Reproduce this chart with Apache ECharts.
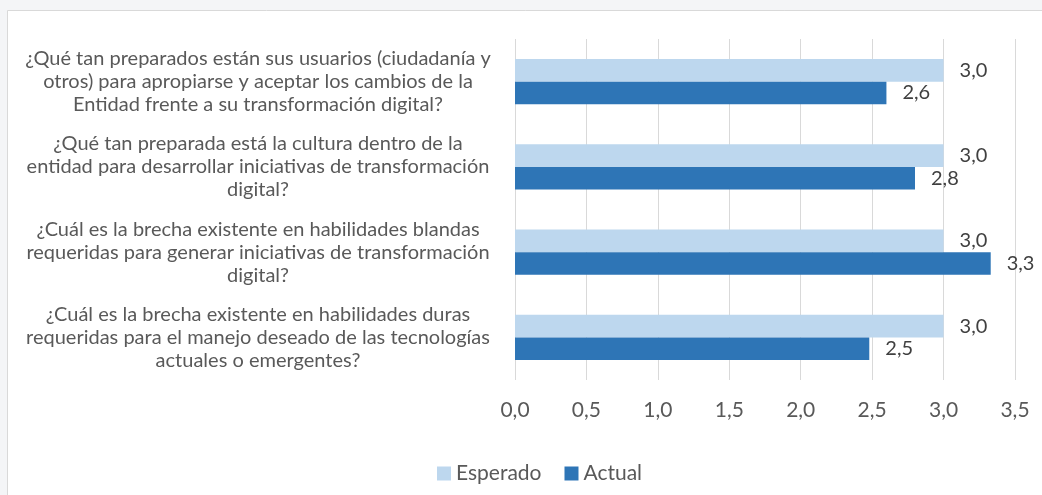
<!DOCTYPE html>
<html>
<head>
<meta charset="utf-8">
<script src="https://cdn.jsdelivr.net/npm/echarts@6/dist/echarts.min.js"></script>
<style>
html,body{margin:0;padding:0;background:#f4f5f7;}
#chart{width:1042px;height:495px;}
</style>
</head>
<body>
<div id="chart"></div>
<script>
const categories = [
  "¿Qué tan preparados están sus usuarios (ciudadanía y\notros) para apropiarse y aceptar los cambios de la\nEntidad frente a su transformación digital?",
  "¿Qué tan preparada está la cultura dentro de la\nentidad para desarrollar iniciativas de transformación\ndigital?",
  "¿Cuál es la brecha existente en habilidades blandas\nrequeridas para generar iniciativas de transformación\ndigital?",
  "¿Cuál es la brecha existente en habilidades duras\nrequeridas para el manejo deseado de las tecnologías\nactuales o emergentes?"
];
const seriesNames = ["Esperado", "Actual"];
const esperado = [3.0, 3.0, 3.0, 3.0];
const actual = [2.6, 2.8, 3.33, 2.48];
const xTicks = [0, 0.5, 1.0, 1.5, 2.0, 2.5, 3.0, 3.5];

const fmt = v => Number(v).toFixed(1).replace('.', ',');
const FONT = 'Lato';

const chart = echarts.init(document.getElementById('chart'), null, {renderer: 'canvas'});
chart.setOption({
  backgroundColor: '#f4f5f7',
  animation: false,
  graphic: [{
    type: 'rect', z: -10, silent: true,
    shape: {x: 7.5, y: 10.5, width: 1040, height: 490},
    style: {fill: '#ffffff', stroke: '#d9d9d9', lineWidth: 1}
  }],
  grid: {left: 515, right: 27, top: 39, bottom: 115, containLabel: false},
  legend: {
    data: seriesNames,
    left: 432, top: 458,
    itemWidth: 14, itemHeight: 14, itemGap: 23,
    icon: 'rect',
    textStyle: {fontFamily: FONT, fontSize: 21, color: '#595959'}
  },
  xAxis: {
    type: 'value',
    min: xTicks[0], max: xTicks[xTicks.length - 1], interval: 0.5,
    axisLine: {show: false},
    axisTick: {show: false},
    splitLine: {show: true, showMinLine: true, showMaxLine: true, lineStyle: {color: '#d9d9d9', width: 1}},
    axisLabel: {formatter: fmt, fontFamily: FONT, fontSize: 21, color: '#595959', margin: 20}
  },
  yAxis: {
    type: 'category',
    inverse: true,
    data: categories,
    axisLine: {show: false},
    axisTick: {show: false},
    axisLabel: {
      align: 'center', margin: 257,
      fontFamily: FONT, fontSize: 20, lineHeight: 23, color: '#595959'
    }
  },
  series: [
    {
      name: seriesNames[0], type: 'bar', data: esperado,
      barGap: '0%', barCategoryGap: '47%',
      itemStyle: {color: '#BDD7EE'},
      label: {show: true, position: 'right', distance: 16, formatter: p => fmt(p.value),
        fontFamily: FONT, fontSize: 20, color: '#404040'}
    },
    {
      name: seriesNames[1], type: 'bar', data: actual,
      barGap: '0%', barCategoryGap: '47%',
      itemStyle: {color: '#2E75B6'},
      label: {show: true, position: 'right', distance: 16, formatter: p => fmt(p.value),
        fontFamily: FONT, fontSize: 20, color: '#404040'}
    }
  ]
});
</script>
</body>
</html>
